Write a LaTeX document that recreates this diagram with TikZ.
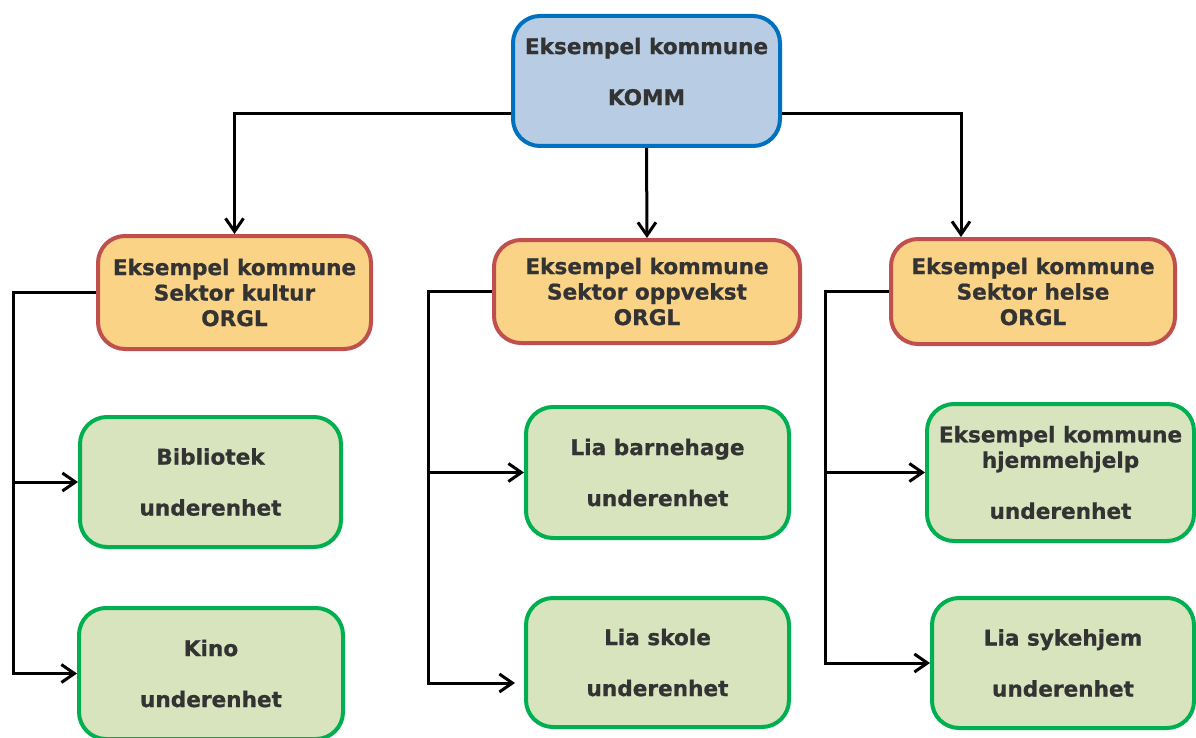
\documentclass[tikz,border=0pt]{standalone}
\usepackage{fontspec}
\setmainfont{DejaVu Sans}[BoldFeatures={FakeBold=0.8}]
\usetikzlibrary{arrows.meta}
\definecolor{bluefill}{HTML}{B8CCE4}
\definecolor{blueline}{HTML}{0070C0}
\definecolor{orfill}{HTML}{FAD387}
\definecolor{orline}{HTML}{C0504D}
\definecolor{grfill}{HTML}{D7E4BD}
\definecolor{grline}{HTML}{00B050}
\definecolor{txt}{HTML}{333333}
\tikzset{
  box/.style={rounded corners=27pt, line width=4pt, inner sep=0pt, align=center,
    text=txt, font=\fontsize{21.6}{25.5}\selectfont\bfseries},
  topbox/.style={box, draw=blueline, fill=bluefill},
  secbox/.style={box, draw=orline, fill=orfill},
  unitbox/.style={box, draw=grline, fill=grfill},
  lbl/.style={align=center, text=txt, inner sep=0pt, font=\fontsize{21.6}{25.5}\selectfont\bfseries},
  conn/.style={line width=3pt, -{Straight Barb[length=13pt,width=18pt]}}
}
\begin{document}
\begin{tikzpicture}[x=1pt,y=-1pt]
\clip (0,0) rectangle (1196,738);
\fill[white] (0,0) rectangle (1196,738);
% top
\node[topbox, minimum width=267pt, minimum height=130pt] (komm) at (646.5,81) {};
\node[lbl] (kommtxt) at (646.5,71.5) {Eksempel kommune\\[25.5pt]KOMM};
% sectors
\node[secbox, minimum width=273pt, minimum height=113pt] (kultur) at (234.5,292.5)
  {Eksempel kommune\\Sektor kultur\\ORGL};
\node[secbox, minimum width=306pt, minimum height=103pt] (oppvekst) at (647,291.5)
  {Eksempel kommune\\Sektor oppvekst\\ORGL};
\node[secbox, minimum width=284pt, minimum height=105pt] (helse) at (1033,291.5)
  {Eksempel kommune\\Sektor helse\\ORGL};
% units
\node[unitbox, minimum width=261pt, minimum height=130pt] (bib) at (210.5,482)
  {Bibliotek\\[25.5pt]underenhet};
\node[unitbox, minimum width=264pt, minimum height=131pt] (kino) at (211,673.5)
  {Kino\\[25.5pt]underenhet};
\node[unitbox, minimum width=263pt, minimum height=131pt] (barn) at (657.5,472.5)
  {Lia barnehage\\[25.5pt]underenhet};
\node[unitbox, minimum width=263pt, minimum height=129pt] (skole) at (657.5,662.5)
  {Lia skole\\[25.5pt]underenhet};
\node[unitbox, minimum width=267pt, minimum height=137pt] (hjem) at (1060.5,472.5)
  {Eksempel kommune\\hjemmehjelp\\[25.5pt]underenhet};
\node[unitbox, minimum width=262pt, minimum height=130pt] (syke) at (1063,663)
  {Lia sykehjem\\[25.5pt]underenhet};
% coordinates
\coordinate (kx) at (13,0);
\coordinate (ox) at (428,0);
\coordinate (hx) at (825,0);
\coordinate (ty) at (0,114);
\coordinate (helsex) at (961,0);
\coordinate (skoleend) at (515,683);
% connectors from top
\draw[conn] (komm.west |- ty) -| (kultur.north);
\draw[conn] (komm.south) -- (oppvekst.north);
\draw[conn] (komm.east |- ty) -| (helsex |- helse.north);
% kultur
\draw[conn] (kultur.west) -| (kx |- kino.west) -- (kino.west);
\draw[conn] (kx |- bib.west) -- (bib.west);
% oppvekst
\draw[conn] (oppvekst.west) -| (ox |- skoleend) -- (skoleend);
\draw[conn] (ox |- barn.west) -- (barn.west);
% helse
\draw[conn] (helse.west) -| (hx |- syke.west) -- (syke.west);
\draw[conn] (hx |- hjem.west) -- (hjem.west);
\end{tikzpicture}
\end{document}
